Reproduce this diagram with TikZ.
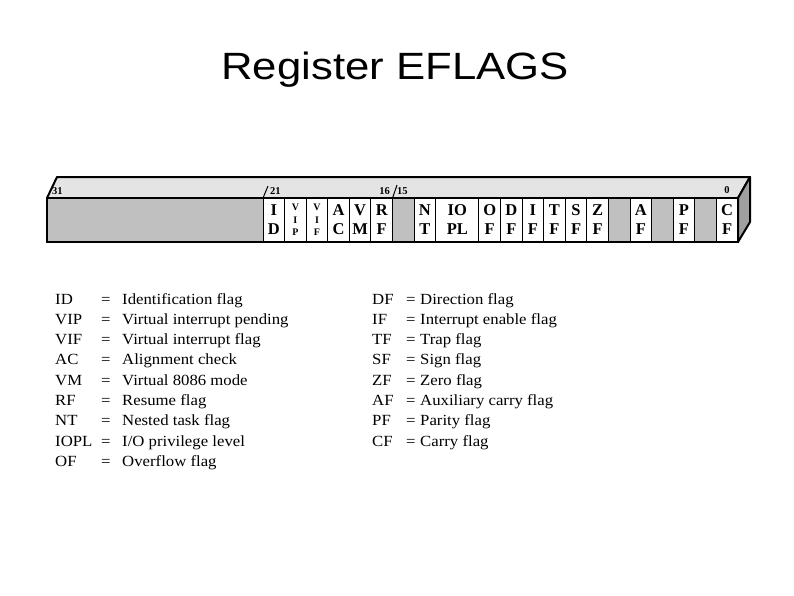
\documentclass[tikz,border=0pt]{standalone}
\usepackage{fontspec}
\setmainfont{Liberation Serif}
\newfontfamily\titlefont{Liberation Sans}
\definecolor{topgray}{HTML}{E4E4E4}
\definecolor{frontgray}{HTML}{C0C0C0}
\definecolor{sidegray}{HTML}{A0A0A0}
\begin{document}
\begin{tikzpicture}[x=1pt,y=-1pt,
  cell/.style={draw=black,line width=1pt,fill=white,anchor=north west,inner sep=0pt,outer sep=0pt,
    minimum height=44pt,align=center,font=\bfseries\fontsize{16.5}{19}\selectfont},
  rcell/.style={cell,fill=frontgray},
  smallcell/.style={cell,font=\bfseries\fontsize{10}{12.5}\selectfont},
  bitnum/.style={font=\bfseries\fontsize{10.5}{12}\selectfont,inner sep=0pt},
  leg/.style={anchor=base west,inner sep=0pt,font=\fontsize{15.5}{18}\selectfont,xscale=1.08},
  thick/.style={line width=2pt}]
\useasboundingbox (0,0) rectangle (794,595);
\def\bw{21.59}
\def\bx#1{{263+(21-#1)*\bw}}
% title
\node[font=\titlefont\fontsize{38}{44}\selectfont,anchor=base,inner sep=0pt,xscale=1.15] (title) at (395,79) {Register EFLAGS};
% 3D faces
\draw[thick,fill=topgray,line join=round] (47,198) -- (57,177) -- (750,177) -- (738,198) -- cycle;
\draw[thick,fill=sidegray,line join=round] (738,198) -- (750,177) -- (750,222) -- (738,242) -- cycle;
\node[draw=black,line width=2pt,fill=frontgray,anchor=north west,inner sep=0pt,outer sep=0pt,minimum width=691pt,minimum height=44pt] (front) at (47,198) {};
% cells
\node[cell,minimum width=\bw pt] (ID) at (\bx{21},198) {I\\D};
\node[smallcell,minimum width=\bw pt] (VIP) at (\bx{20},198) {V\\I\\P};
\node[smallcell,minimum width=\bw pt] (VIF) at (\bx{19},198) {V\\I\\F};
\node[cell,minimum width=\bw pt] (AC) at (\bx{18},198) {A\\C};
\node[cell,minimum width=\bw pt] (VM) at (\bx{17},198) {V\\M};
\node[cell,minimum width=\bw pt] (RF) at (\bx{16},198) {R\\F};
\node[rcell,minimum width=\bw pt] (r15) at (\bx{15},198) {};
\node[cell,minimum width=\bw pt] (NT) at (\bx{14},198) {N\\T};
\node[cell,minimum width=2*\bw pt] (IOPL) at (\bx{13},198) {IO\\PL};
\node[cell,minimum width=\bw pt] (OF) at (\bx{11},198) {O\\F};
\node[cell,minimum width=\bw pt] (DF) at (\bx{10},198) {D\\F};
\node[cell,minimum width=\bw pt] (IF) at (\bx{9},198) {I\\F};
\node[cell,minimum width=\bw pt] (TF) at (\bx{8},198) {T\\F};
\node[cell,minimum width=\bw pt] (SF) at (\bx{7},198) {S\\F};
\node[cell,minimum width=\bw pt] (ZF) at (\bx{6},198) {Z\\F};
\node[rcell,minimum width=\bw pt] (r5) at (\bx{5},198) {};
\node[cell,minimum width=\bw pt] (AF) at (\bx{4},198) {A\\F};
\node[rcell,minimum width=\bw pt] (r3) at (\bx{3},198) {};
\node[cell,minimum width=\bw pt] (PF) at (\bx{2},198) {P\\F};
\node[rcell,minimum width=\bw pt] (r1) at (\bx{1},198) {};
\node[cell,minimum width=\bw pt] (CF) at (\bx{0},198) {C\\F};
\draw[thick] (front.north west) rectangle (front.south east);
% bit position ticks
\coordinate (t21) at (268,186);
\coordinate (t15) at (397,185);
\draw[line width=1pt] (ID.north west) -- (t21);
\draw[line width=1pt] (RF.north east) -- (t15);
\node[bitnum,anchor=base west] (n31) at (52,194) {31};
\node[bitnum,anchor=base west] (n21) at (270,194) {21};
\node[bitnum,anchor=base east] (n16) at (390,194) {16};
\node[bitnum,anchor=base west] (n15) at (397,194) {15};
\node[bitnum,anchor=base] (n0) at (727,193) {0};
% legend left
\foreach \ab/\de [count=\i] in {ID/Identification flag,VIP/Virtual interrupt pending,VIF/Virtual interrupt flag,AC/Alignment check,VM/Virtual 8086 mode,RF/Resume flag,NT/Nested task flag,IOPL/I\slash O privilege level,OF/Overflow flag}{
  \node[leg] (la\i) at (55,{304+(\i-1)*20.3}) {\ab};
  \node[leg] (le\i) at (101,{304+(\i-1)*20.3}) {=};
  \node[leg] (ld\i) at (122,{304+(\i-1)*20.3}) {\de};
}
% legend right
\foreach \ab/\de [count=\i] in {DF/Direction flag,IF/Interrupt enable flag,TF/Trap flag,SF/Sign flag,ZF/Zero flag,AF/Auxiliary carry flag,PF/Parity flag,CF/Carry flag}{
  \node[leg] (ra\i) at (372,{304+(\i-1)*20.3}) {\ab};
  \node[leg] (re\i) at (406,{304+(\i-1)*20.3}) {=};
  \node[leg] (rd\i) at (420,{304+(\i-1)*20.3}) {\de};
}
\end{tikzpicture}
\end{document}
